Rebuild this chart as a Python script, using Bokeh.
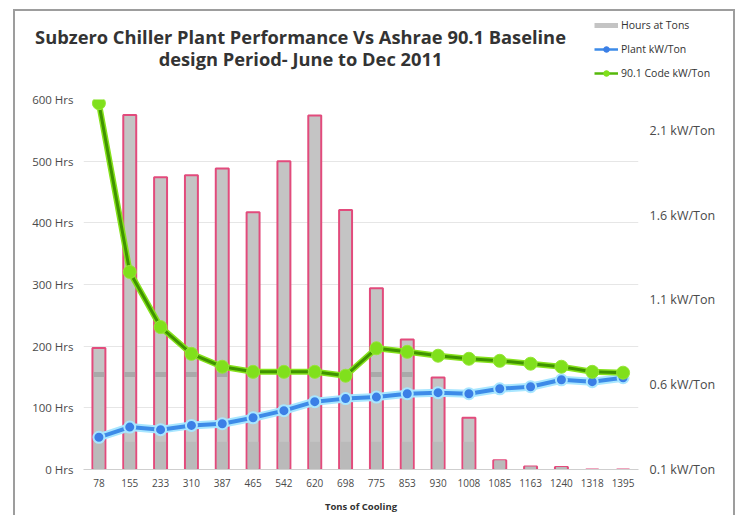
from bokeh.plotting import figure
from bokeh.layouts import column
from bokeh.models import (Range1d, LinearAxis, FixedTicker, PrintfTickFormatter, FactorRange,
                          Legend, LegendItem, Label, ColumnDataSource)
from bokeh.embed import file_html
from bokeh.resources import INLINE

# ---------------- data ----------------
tons = ["78", "155", "233", "310", "387", "465", "542", "620", "698", "775",
        "853", "930", "1008", "1085", "1163", "1240", "1318", "1395"]
hours = [197, 575, 474, 477, 488, 417, 500, 574, 421, 294,
         211, 149, 84, 15, 5, 4, 0, 0]
plant_kw = [0.29, 0.35, 0.335, 0.36, 0.37, 0.405, 0.447, 0.50, 0.518, 0.527,
            0.547, 0.553, 0.547, 0.576, 0.588, 0.629, 0.618, 0.641]
code_kw = [2.26, 1.265, 0.94, 0.782, 0.706, 0.676, 0.676, 0.676, 0.653, 0.815,
           0.794, 0.771, 0.753, 0.741, 0.724, 0.706, 0.676, 0.671]
hrs_ticks = [0, 100, 200, 300, 400, 500, 600]
kw_ticks = [0.1, 0.6, 1.1, 1.6, 2.1]
title_lines = ["Subzero Chiller Plant Performance Vs Ashrae 90.1 Baseline",
               "design Period- June to Dec 2011"]
legend_labels = ["Hours at Tons", "Plant kW/Ton", "90.1 Code kW/Ton"]

# shading bands seen inside the bars (clipped to each bar's height)
band_lo, band_hi = 150, 158
base_hi = 45
src = ColumnDataSource(dict(
    tons=tons, hours=hours, plant=plant_kw, code=code_kw,
    band_top=[max(band_lo, min(h, band_hi)) for h in hours],
    base_top=[min(h, base_hi) for h in hours],
))

FONT = "Open Sans"
TICK_COLOR = "#4a4a4a"
BAR_FILL, BAR_LINE = "#c4c4c4", "#e24b7c"
BLUE, BLUE_GLOW, BLUE_DOT = "#3d8be8", "#a8e6ff", "#3b7fe6"
GREEN_CORE, GREEN_GLOW, GREEN_DOT = "#3f9300", "#86e21c", "#80e01c"
W = 718


def no_align(fig):
    if "frame_align" in fig.properties():
        fig.frame_align = False


# ---------------- header: title + legend ----------------
header = figure(width=W, height=78, x_range=Range1d(0, W), y_range=Range1d(0, 78),
                x_axis_type=None, y_axis_type=None, output_backend="svg",
                toolbar_location=None, min_border=0,
                background_fill_color="white", border_fill_color="white")
header.outline_line_color = None
no_align(header)
for i, t in enumerate(title_lines):
    header.add_layout(Label(x=285, y=53 - 22 * i, x_units="screen", y_units="screen", text=t,
                            text_align="center", text_baseline="middle",
                            text_font=FONT, text_font_size="18.3px", text_font_style="bold",
                            text_color="#333333"))

# legend swatches: renderers holding a single undrawable (NaN) row
nan = float("nan")
swatch = ColumnDataSource(dict(x=[nan], y=[nan]))
bar_leg = header.line("x", "y", source=swatch, line_color=BAR_FILL, line_width=5)
plant_leg_l = header.line("x", "y", source=swatch, line_color=BLUE, line_width=2.5)
plant_leg_m = header.scatter("x", "y", source=swatch, fill_color=BLUE_DOT, line_color=BLUE_DOT)
code_leg_l = header.line("x", "y", source=swatch, line_color="#56b80a", line_width=2.5)
code_leg_m = header.scatter("x", "y", source=swatch, fill_color=GREEN_DOT, line_color=GREEN_DOT)
legend = Legend(items=[
    LegendItem(label=legend_labels[0], renderers=[bar_leg]),
    LegendItem(label=legend_labels[1], renderers=[plant_leg_l, plant_leg_m]),
    LegendItem(label=legend_labels[2], renderers=[code_leg_l, code_leg_m]),
], location=(579, 7))
legend.padding = 0
legend.margin = 0
legend.spacing = 6
legend.border_line_color = None
legend.background_fill_alpha = 0
legend.glyph_width = 24
legend.glyph_height = 14
legend.label_height = 18
legend.label_standoff = 3
legend.label_text_font = FONT
legend.label_text_font_size = "10.5px"
legend.label_text_color = "#333333"
header.add_layout(legend, "center")

# ---------------- main chart ----------------
p = figure(x_range=FactorRange(factors=tons), y_range=Range1d(0, 600),
           width=W, height=426, output_backend="svg", toolbar_location=None,
           min_border_left=68, min_border_right=95, min_border_top=10, min_border_bottom=45,
           background_fill_color="white", border_fill_color="white")
p.outline_line_color = None
no_align(p)
p.extra_y_ranges = {"kw": Range1d(0.1, 2.282)}

p.yaxis.ticker = FixedTicker(ticks=hrs_ticks)
p.yaxis.formatter = PrintfTickFormatter(format="%d Hrs")
p.yaxis.axis_line_color = None
p.yaxis.major_tick_line_color = None
p.yaxis.minor_tick_line_color = None
p.yaxis.major_tick_out = 0
p.yaxis.major_label_standoff = 10
p.yaxis.major_label_text_font = FONT
p.yaxis.major_label_text_font_size = "11.5px"
p.yaxis.major_label_text_color = TICK_COLOR

right = LinearAxis(y_range_name="kw", ticker=FixedTicker(ticks=kw_ticks),
                   formatter=PrintfTickFormatter(format="%.1f kW/Ton"))
right.axis_line_color = None
right.major_tick_line_color = None
right.minor_tick_line_color = None
right.major_tick_out = 0
right.major_label_standoff = 11
right.major_label_text_font = FONT
right.major_label_text_font_size = "12.5px"
right.major_label_text_color = TICK_COLOR
p.add_layout(right, "right")

p.xaxis.axis_line_color = "#cfcfcf"
p.xaxis.major_tick_line_color = None
p.xaxis.major_tick_out = 0
p.xaxis.major_label_standoff = 9
p.xaxis.major_label_text_font = FONT
p.xaxis.major_label_text_font_size = "10px"
p.xaxis.major_label_text_color = TICK_COLOR
p.xaxis.axis_label = "Tons of Cooling"
p.xaxis.axis_label_text_font = FONT
p.xaxis.axis_label_text_font_size = "9.5px"
p.xaxis.axis_label_text_font_style = "bold"
p.xaxis.axis_label_text_color = "#333333"
p.xaxis.axis_label_standoff = 10

p.xgrid.grid_line_color = None
p.ygrid.ticker = FixedTicker(ticks=hrs_ticks)
p.ygrid.grid_line_color = "#e6e6e6"

p.vbar(x="tons", top="hours", width=0.42, source=src,
       fill_color=BAR_FILL, line_color=BAR_LINE, line_width=2)
p.vbar(x="tons", bottom=0, top="base_top", width=0.35, source=src,
       fill_color="#bababa", line_color=None)
p.vbar(x="tons", bottom=band_lo, top="band_top", width=0.35, source=src,
       fill_color="#a9a9a9", line_color=None)

p.line("tons", "plant", source=src, y_range_name="kw", line_color=BLUE_GLOW, line_width=8)
p.line("tons", "plant", source=src, y_range_name="kw", line_color=BLUE, line_width=4)
p.scatter("tons", "plant", source=src, y_range_name="kw", size=11,
          fill_color=BLUE_DOT, line_color=BLUE_GLOW, line_width=2)

p.line("tons", "code", source=src, y_range_name="kw", line_color=GREEN_GLOW, line_width=6)
p.line("tons", "code", source=src, y_range_name="kw", line_color=GREEN_CORE, line_width=3)
p.scatter("tons", "code", source=src, y_range_name="kw", size=13,
          fill_color=GREEN_DOT, line_color="#96e636", line_width=1)

layout = column(header, p, spacing=0,
                styles={"border": "2px solid #9d9d9d", "border-bottom": "none",
                        "margin-left": "13px", "margin-top": "9px"})

open("out.html", "w").write(file_html(layout, INLINE))
